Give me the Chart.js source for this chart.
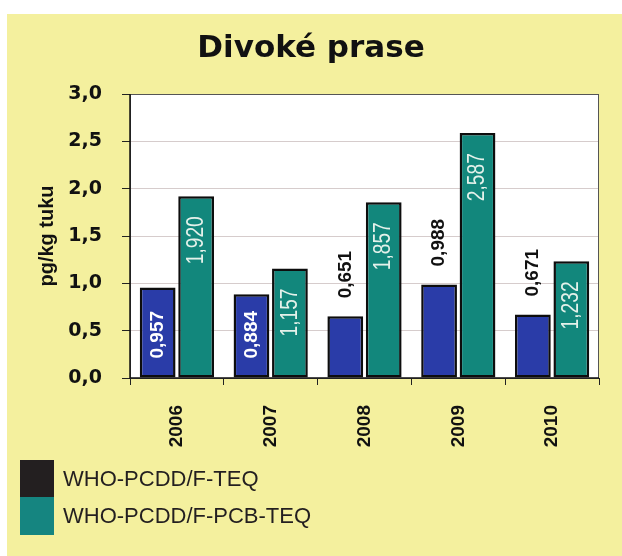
<!DOCTYPE html>
<html>
<head>
<meta charset="utf-8">
<script src="https://cdn.jsdelivr.net/npm/chart.js@4.4.1/dist/chart.umd.min.js"></script>
<style>
  html, body { margin: 0; padding: 0; background: #fff; }
  #wrap { width: 622px; height: 556px; position: relative; }
</style>
</head>
<body>
<div id="wrap"><canvas id="chart"></canvas></div>
<script>
// data
const years = ['2006', '2007', '2008', '2009', '2010'];
const pcddTeq = [0.957, 0.884, 0.651, 0.988, 0.671];
const pcddPcbTeq = [1.920, 1.157, 1.857, 2.587, 1.232];
const seriesNames = ['WHO-PCDD/F-TEQ', 'WHO-PCDD/F-PCB-TEQ'];
const yTicks = [0, 0.5, 1, 1.5, 2, 2.5, 3];
const chartTitle = 'Divoké prase';

// where the blue value labels sit: inside at the base or above the bar
const bluePlacement = ['base', 'base', 'out', 'out', 'out'];

const BG_YELLOW = '#f4f09e';
const BLUE = '#2a3ca8';
const TEAL = '#12877c';
const legendSwatch = ['#231f20', '#158580'];

const comma = (v, d) => v.toFixed(d).replace('.', ',');

// yellow card, white plot area, title
const backdrop = {
  id: 'backdrop',
  beforeDraw(chart) {
    const { ctx, chartArea: a } = chart;
    ctx.save();
    ctx.fillStyle = BG_YELLOW;
    ctx.fillRect(7, 14, chart.width - 7, chart.height - 14);
    ctx.fillStyle = '#fff';
    ctx.fillRect(a.left, a.top, a.right - a.left, a.bottom - a.top);
    ctx.fillStyle = '#111';
    ctx.font = 'bold 31px "DejaVu Sans", sans-serif';
    ctx.textAlign = 'center';
    ctx.textBaseline = 'alphabetic';
    ctx.fillText(chartTitle, 311, 57);
    ctx.restore();
  },
  afterDraw(chart) {
    const { ctx, chartArea: a } = chart;
    ctx.save();
    ctx.strokeStyle = '#555';
    ctx.lineWidth = 1;
    ctx.strokeRect(a.left + 0.5, a.top + 0.5, a.right - a.left - 1, a.bottom - a.top);
    ctx.strokeStyle = '#111';
    ctx.lineWidth = 1.5;
    ctx.beginPath();
    ctx.moveTo(a.left, a.top);
    ctx.lineTo(a.left, a.bottom);
    ctx.lineTo(a.right, a.bottom);
    ctx.stroke();
    ctx.restore();
  }
};

// rotated value labels
const valueLabels = {
  id: 'valueLabels',
  afterDatasetsDraw(chart) {
    const { ctx } = chart;
    ctx.save();
    chart.data.datasets.forEach((ds, di) => {
      const meta = chart.getDatasetMeta(di);
      meta.data.forEach((bar, i) => {
        const txt = comma(ds.data[i], 3);
        ctx.save();
        ctx.textBaseline = 'middle';
        if (di === 0) {
          ctx.font = 'bold 19px "Liberation Sans", Arial, sans-serif';
          if (bluePlacement[i] === 'base') {
            ctx.fillStyle = '#fff';
            ctx.translate(bar.x, bar.base - 19);
          } else {
            ctx.fillStyle = '#111';
            ctx.translate(bar.x, bar.y - 18);
          }
          ctx.rotate(-Math.PI / 2);
          ctx.textAlign = 'left';
        } else {
          // condensed, thin look of the original
          ctx.font = '24px "Liberation Sans", Arial, sans-serif';
          ctx.fillStyle = '#e4f1ea';
          ctx.translate(bar.x, bar.y + 20);
          ctx.rotate(-Math.PI / 2);
          ctx.scale(0.8, 1);
          ctx.textAlign = 'right';
        }
        ctx.fillText(txt, 0, 0);
        ctx.restore();
      });
    });
    ctx.restore();
  }
};

// legend: stacked swatches that touch, text to the right
const sideLegend = {
  id: 'sideLegend',
  afterDraw(chart) {
    const { ctx } = chart;
    ctx.save();
    const rows = [{ y: 460, h: 37 }, { y: 497, h: 38 }];
    rows.forEach((r, i) => {
      ctx.fillStyle = legendSwatch[i];
      ctx.fillRect(20, r.y, 34, r.h);
      ctx.fillStyle = '#231f20';
      ctx.font = '22px "Liberation Sans", Arial, sans-serif';
      ctx.textBaseline = 'middle';
      ctx.textAlign = 'left';
      ctx.fillText(seriesNames[i], 63, r.y + r.h / 2 + 1);
    });
    ctx.restore();
  }
};

new Chart(document.getElementById('chart'), {
  type: 'bar',
  data: {
    labels: years,
    datasets: [
      { label: seriesNames[0], data: pcddTeq, backgroundColor: BLUE },
      { label: seriesNames[1], data: pcddPcbTeq, backgroundColor: TEAL }
    ]
  },
  options: {
    responsive: true,
    maintainAspectRatio: false,
    animation: false,
    layout: { padding: { left: 0, right: 23, top: 94, bottom: 98 } },
    datasets: {
      bar: {
        categoryPercentage: 0.82,
        barPercentage: 0.93,
        borderColor: '#0d0d0d',
        borderWidth: 2.5,
        borderSkipped: false
      }
    },
    plugins: {
      legend: { display: false },
      tooltip: { enabled: false },
      title: { display: false }
    },
    scales: {
      x: {
        grid: { drawOnChartArea: false, tickColor: '#222', tickLength: 7, offset: true },
        border: { display: false },
        ticks: {
          color: '#111',
          minRotation: 90,
          maxRotation: 90,
          autoSkip: false,
          padding: 20,
          font: { family: '"Liberation Sans", Arial, sans-serif', size: 19, weight: 'bold' }
        },
        afterFit(s) { s.height = 80; }
      },
      y: {
        min: 0,
        max: 3,
        afterBuildTicks(s) { s.ticks = yTicks.map(v => ({ value: v })); },
        grid: { color: '#d6cccc', tickColor: '#222', tickLength: 8 },
        border: { display: false },
        ticks: {
          color: '#111',
          padding: 20,
          font: { family: '"DejaVu Sans", sans-serif', size: 19, weight: 'bold' },
          callback: v => comma(v, 1)
        },
        title: {
          display: true,
          text: 'pg/kg tuku',
          color: '#111',
          font: { family: '"Liberation Sans", Arial, sans-serif', size: 20, weight: 'bold' },
          padding: { top: 35, bottom: 0 }
        },
        afterFit(s) { s.width = 130; }
      }
    }
  },
  plugins: [backdrop, valueLabels, sideLegend]
});
</script>
</body>
</html>
